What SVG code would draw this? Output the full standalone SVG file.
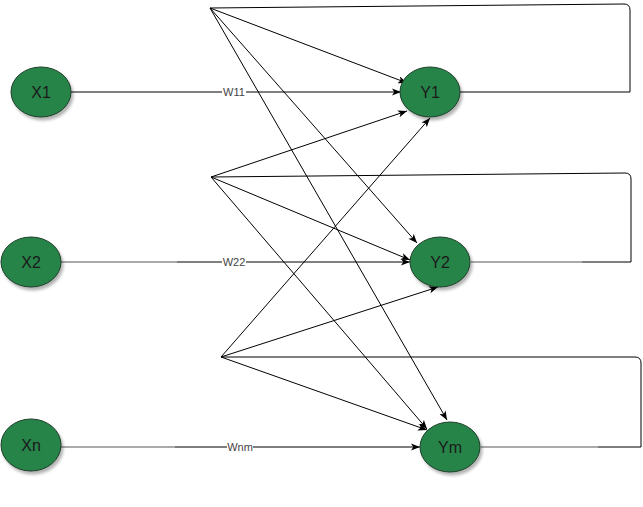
<svg xmlns="http://www.w3.org/2000/svg" width="643" height="507" viewBox="0 0 643 507">
<style>
.node ellipse{fill:#28844a;stroke:#1d3d28;stroke-width:1;filter:url(#sh)}
.node text{font-family:"Liberation Sans",Arial,sans-serif;font-size:16px;fill:#1a1a1a;text-anchor:middle}
.e{fill:none;stroke:#000;stroke-width:1}
.g{fill:none;stroke:#aaa;stroke-width:2}
.lbl{font-family:"Liberation Sans",Arial,sans-serif;font-size:11px;fill:#444;text-anchor:middle}
</style>
<defs>
<filter id="sh" x="-30%" y="-30%" width="170%" height="170%">
<feDropShadow dx="2" dy="3" stdDeviation="1.5" flood-color="#000" flood-opacity="0.3"/>
</filter>
<marker id="arr" viewBox="0 0 10 8" refX="10" refY="4" markerWidth="9" markerHeight="7.5" orient="auto" markerUnits="userSpaceOnUse">
<path d="M0,0 L10,4 L0,8 L2.5,4 z" fill="#000"/>
</marker>
</defs>
<rect width="643" height="507" fill="#fff"/>
<g id="connectors">
<!-- inputs -->
<path class="e" d="M71,92 L401,92" marker-end="url(#arr)" stroke="#333"/>
<path class="g" d="M61,262 L177,262"/>
<path class="e" d="M177,262 L410,262" marker-end="url(#arr)" stroke="#333"/>
<path class="g" d="M61,447 L175,447"/>
<path class="e" d="M175,447 L420,447" marker-end="url(#arr)"/>
<!-- hub 1 -->
<path class="e" d="M210,8 L407,83" marker-end="url(#arr)"/>
<path class="e" d="M210,8 L417,243" marker-end="url(#arr)"/>
<path class="e" d="M210,8 L447,420" marker-end="url(#arr)"/>
<!-- hub 2 -->
<path class="e" d="M211,177 L407,111" marker-end="url(#arr)"/>
<path class="e" d="M211,177 L410,260" marker-end="url(#arr)"/>
<path class="e" d="M211,177 L427,429" marker-end="url(#arr)"/>
<!-- hub 3 -->
<path class="e" d="M221,357 L430,118" marker-end="url(#arr)"/>
<path class="e" d="M221,357 L438,287" marker-end="url(#arr)"/>
<path class="e" d="M221,357 L427,430" marker-end="url(#arr)"/>
<!-- loops -->
<path class="e" d="M460,92 L630,92 L630,10 Q630,4 624,4 L210,8"/>
<path class="g" d="M471,262 L582,262"/>
<path class="e" d="M582,262 L631,262 L631,179 Q631,173 625,173 L211,177"/>
<path class="g" d="M481,447 L598,447"/>
<path class="e" d="M598,447 L641,447 L641,363 Q641,357 635,357 L221,357"/>
<!-- labels -->
<rect x="222" y="86" width="24" height="12" fill="#fff"/>
<text class="lbl" x="234" y="96">W11</text>
<rect x="222" y="256" width="24" height="12" fill="#fff"/>
<text class="lbl" x="234" y="266">W22</text>
<rect x="227" y="441" width="26" height="12" fill="#fff"/>
<text class="lbl" x="240" y="451">Wnm</text>
</g>
<g id="X1" class="node"><ellipse cx="41" cy="92" rx="30" ry="25"/><text x="41" y="98">X1</text></g>
<g id="X2" class="node"><ellipse cx="31" cy="262" rx="30" ry="25"/><text x="31" y="268">X2</text></g>
<g id="Xn" class="node"><ellipse cx="31" cy="445" rx="30" ry="26"/><text x="31" y="451">Xn</text></g>
<g id="Y1" class="node"><ellipse cx="430" cy="92" rx="30" ry="25"/><text x="430" y="98">Y1</text></g>
<g id="Y2" class="node"><ellipse cx="440" cy="262" rx="30" ry="25"/><text x="440" y="268">Y2</text></g>
<g id="Ym" class="node"><ellipse cx="450" cy="447" rx="30" ry="25"/><text x="450" y="453">Ym</text></g>
</svg>
